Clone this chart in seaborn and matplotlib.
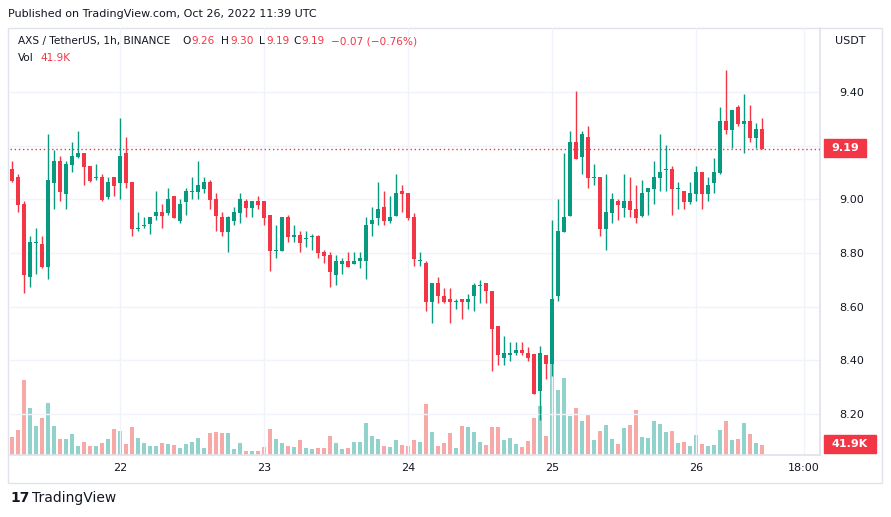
import numpy as np
import pandas as pd
import matplotlib
matplotlib.use("Agg")
import matplotlib.pyplot as plt
from matplotlib.patches import Rectangle
import seaborn as sns

opens = [9.112,9.083,8.982,8.710,8.837,8.832,8.747,9.061,9.142,9.020,9.127,9.158,9.172,9.124,9.079,9.083,9.008,9.083,9.061,9.172,
 9.064,8.889,8.901,8.908,8.938,8.952,8.949,9.012,8.919,8.990,9.028,9.028,9.039,9.064,9.000,8.933,8.878,8.919,8.949,8.993,
 8.968,8.993,8.993,8.940,8.807,8.807,8.933,8.859,8.869,8.851,8.859,8.862,8.802,8.791,8.717,8.759,8.772,8.759,8.770,8.770,
 8.908,8.931,8.970,8.919,8.938,9.030,9.023,8.933,8.771,8.761,8.616,8.690,8.641,8.630,8.616,8.630,8.616,8.639,8.676,8.690,
 8.660,8.529,8.407,8.418,8.427,8.439,8.427,8.422,8.287,8.421,8.387,8.639,8.878,8.937,9.213,9.157,9.232,9.080,9.082,8.889,
 8.949,8.993,8.968,8.993,8.963,8.937,9.028,9.039,9.080,9.110,9.112,9.040,9.030,8.990,9.019,9.101,9.019,9.060,9.098,9.292,
 9.258,9.344,9.281,9.292,9.228,9.262]
highs = [9.142,9.094,8.993,8.862,8.892,8.862,9.243,9.183,9.161,9.142,9.213,9.254,9.172,9.124,9.131,9.094,9.083,9.083,9.303,9.232,
 9.064,8.952,8.934,8.933,9.030,8.982,9.041,9.012,9.000,9.041,9.083,9.142,9.083,9.071,9.023,8.952,8.939,8.970,9.023,9.000,
 8.993,9.012,8.993,8.940,8.904,8.933,8.940,8.903,8.882,8.882,8.871,8.869,8.810,8.802,8.791,8.781,8.802,8.802,8.802,8.933,
 8.970,9.064,9.030,9.012,9.094,9.053,9.023,8.951,8.802,8.772,8.690,8.712,8.671,8.671,8.630,8.630,8.649,8.690,8.701,8.690,
 8.660,8.529,8.489,8.470,8.470,8.470,8.449,8.422,8.452,8.421,8.922,9.001,9.172,9.254,9.404,9.254,9.273,9.131,9.082,9.094,
 9.023,9.000,9.094,9.082,9.054,9.071,9.041,9.143,9.243,9.202,9.123,9.064,9.030,9.064,9.124,9.101,9.083,9.154,9.344,9.483,
 9.333,9.352,9.393,9.352,9.284,9.303]
lows = [9.065,8.953,8.650,8.673,8.721,8.744,8.703,8.964,8.994,8.964,9.102,9.155,9.053,9.064,9.071,8.994,9.000,9.012,9.002,9.041,
 8.863,8.882,8.893,8.871,8.923,8.893,8.942,8.931,8.912,8.942,9.000,9.000,9.024,8.963,8.882,8.863,8.803,8.904,8.912,8.934,
 8.934,8.964,8.904,8.732,8.781,8.807,8.841,8.841,8.803,8.822,8.811,8.781,8.762,8.673,8.680,8.721,8.747,8.759,8.744,8.703,
 8.863,8.903,8.904,8.912,8.938,8.952,8.922,8.750,8.750,8.583,8.541,8.612,8.612,8.541,8.590,8.553,8.590,8.583,8.612,8.612,
 8.362,8.381,8.381,8.399,8.418,8.418,8.399,8.276,8.179,8.329,8.340,8.620,8.878,8.937,9.151,9.094,9.043,9.054,8.863,8.811,
 8.912,8.923,8.933,8.934,8.912,8.933,8.942,8.983,9.031,9.031,8.942,8.964,8.964,8.983,8.994,8.964,8.994,9.024,9.094,9.243,
 9.191,9.273,9.172,9.213,9.191,9.187]
closes = [9.069,8.979,8.717,8.840,8.840,8.747,9.071,9.142,9.028,9.131,9.161,9.172,9.121,9.069,9.081,8.997,9.064,9.049,9.161,9.061,
 8.889,8.892,8.903,8.933,8.952,8.938,9.000,8.931,8.982,9.030,9.030,9.053,9.064,8.998,8.938,8.878,8.933,8.952,9.000,8.968,
 8.993,8.979,8.931,8.807,8.810,8.933,8.859,8.869,8.837,8.852,8.862,8.800,8.788,8.729,8.772,8.772,8.747,8.772,8.781,8.903,
 8.922,8.963,8.919,8.933,9.023,9.020,8.931,8.776,8.772,8.616,8.690,8.639,8.616,8.616,8.619,8.616,8.630,8.679,8.679,8.660,
 8.515,8.418,8.427,8.427,8.439,8.427,8.407,8.276,8.427,8.387,8.630,8.881,8.933,9.213,9.151,9.243,9.080,9.082,8.889,8.952,
 9.000,8.979,8.993,8.960,8.930,9.023,9.041,9.082,9.101,9.112,9.039,9.042,8.990,9.023,9.101,9.019,9.053,9.101,9.292,9.258,
 9.333,9.281,9.292,9.228,9.262,9.187]
volumes_k = [75,105,315,197,122,155,218,122,67,67,88,38,55,38,38,50,67,109,101,46,118,71,50,
 38,38,50,46,42,29,46,55,71,29,92,97,92,92,25,50,17,17,17,34,109,67,
 50,38,34,63,29,25,29,29,80,50,25,29,55,55,134,80,67,38,34,63,42,38,
 63,55,214,97,38,50,92,29,122,118,97,55,42,118,118,63,71,46,34,59,155,206,
 80,382,273,323,164,197,143,168,63,101,126,67,46,113,126,189,76,71,143,130,97,101,
 50,55,38,84,46,38,42,105,143,63,67,134,88,50,42]
day_ticks = [18, 42, 66, 90, 114, 132]
day_labels = ["22", "23", "24", "25", "26", "18:00"]
price_ticks = [8.20, 8.40, 8.60, 8.80, 9.00, 9.20, 9.40]

UP, DOWN = "#089981", "#F23645"
VUP, VDOWN = "#92D2CC", "#F7A9A7"
TXT = "#131722"
W, H = 891, 517

df = pd.DataFrame({"o": opens, "h": highs, "l": lows, "c": closes, "v": volumes_k})
df["i"] = np.arange(len(df))
df["dir"] = np.where(df["c"] >= df["o"], "up", "down")

sns.set_theme(style="white", rc={"font.family": "DejaVu Sans"})
fig = plt.figure(figsize=(W / 100, H / 100), dpi=100)
fig.patch.set_facecolor("white")

ax = fig.add_axes([10 / W, (H - 455) / H, 810 / W, 427 / H])
ax2 = ax.twinx()
ax.set_zorder(2); ax.patch.set_visible(False)
ax2.set_zorder(1)

# volume
sns.barplot(data=df, x="i", y="v", hue="dir", palette={"up": VUP, "down": VDOWN},
            native_scale=True, width=0.72, dodge=False, legend=False, ax=ax2,
            saturation=1, linewidth=0, edgecolor="none")
ax2.set_ylim(0, 427 * 4.19)
ax2.set_yticks([]); ax2.set_ylabel(""); ax2.set_xlabel("")

# candles
cols = np.where(df["dir"] == "up", UP, DOWN)
ax.vlines(df["i"], df["l"], df["h"], colors=cols, linewidth=1.0, zorder=3)
body = (df["c"] - df["o"]).abs().clip(lower=0.004)
ax.bar(df["i"], body, bottom=np.minimum(df["o"], df["c"]), width=0.75, color=cols, linewidth=0, zorder=4)

ax.set_xlim(-0.35, 134.7)
ax.set_ylim(8.047, 9.639)
ax.set_xticks(day_ticks)
ax.set_xticklabels(day_labels)
ax.set_yticks(price_ticks)
ax.set_yticklabels(["" if abs(p - 9.20) < 1e-9 else f"{p:.2f}" for p in price_ticks])
ax.yaxis.tick_right()
ax.tick_params(axis="both", length=0, labelsize=8, colors=TXT)
ax.tick_params(axis="y", pad=14)
ax.tick_params(axis="x", pad=6)
ax.grid(True, color="#F0F3FA", linewidth=1)
ax.set_axisbelow(True)
for s in ["top", "left"]:
    ax.spines[s].set_visible(False)
    ax2.spines[s].set_visible(False)
for s in ["bottom", "right"]:
    ax.spines[s].set_color("#E0E3EB")
    ax2.spines[s].set_visible(False)
ax.set_xlabel(""); ax.set_ylabel("")

last = closes[-1]
ax.axhline(last, color=DOWN, linestyle=(0, (1, 2)), linewidth=1, zorder=5)

def ftext(x, y, s, **kw):
    fig.text(x / W, 1 - y / H, s, va="center", **kw)

# right-side labels
fig.patches.append(Rectangle((824 / W, 1 - 157 / H), 42 / W, 18 / H, transform=fig.transFigure, color=DOWN, zorder=10))
ftext(845, 148, f"{last:.2f}", color="white", fontsize=8, fontweight="bold", ha="center", zorder=11)
fig.patches.append(Rectangle((824 / W, 1 - 453 / H), 52 / W, 18 / H, transform=fig.transFigure, color=DOWN, zorder=10))
ftext(850, 444, "41.9K", color="white", fontsize=8, fontweight="bold", ha="center", zorder=11)
ftext(835, 41, "USDT", color=TXT, fontsize=8)

# frame
fig.patches.append(Rectangle((8 / W, 1 - 483 / H), 874 / W, 455 / H, transform=fig.transFigure,
                             fill=False, edgecolor="#E0E3EB", linewidth=1))

# header
ftext(8, 14, "Published on TradingView.com, Oct 26, 2022 11:39 UTC", color=TXT, fontsize=8)
ftext(18, 41, "AXS / TetherUS, 1h, BINANCE", color=TXT, fontsize=7.6)
for x, s, c in [(182, "O", TXT), (191, "9.26", DOWN), (221, "H", TXT), (230, "9.30", DOWN),
                (259, "L", TXT), (266, "9.19", DOWN), (293, "C", TXT), (301, "9.19", DOWN),
                (331, "\u22120.07 (\u22120.76%)", DOWN)]:
    ftext(x, 41, s, color=c, fontsize=7.6)
ftext(18, 58, "Vol", color=TXT, fontsize=7.6)
ftext(40, 58, "41.9K", color=DOWN, fontsize=7.6)

# footer
ftext(10, 498, "17", color=TXT, fontsize=10, fontweight="bold")
ftext(32, 498, "TradingView", color=TXT, fontsize=10)

fig.savefig("out.png", dpi=100, facecolor="white")
